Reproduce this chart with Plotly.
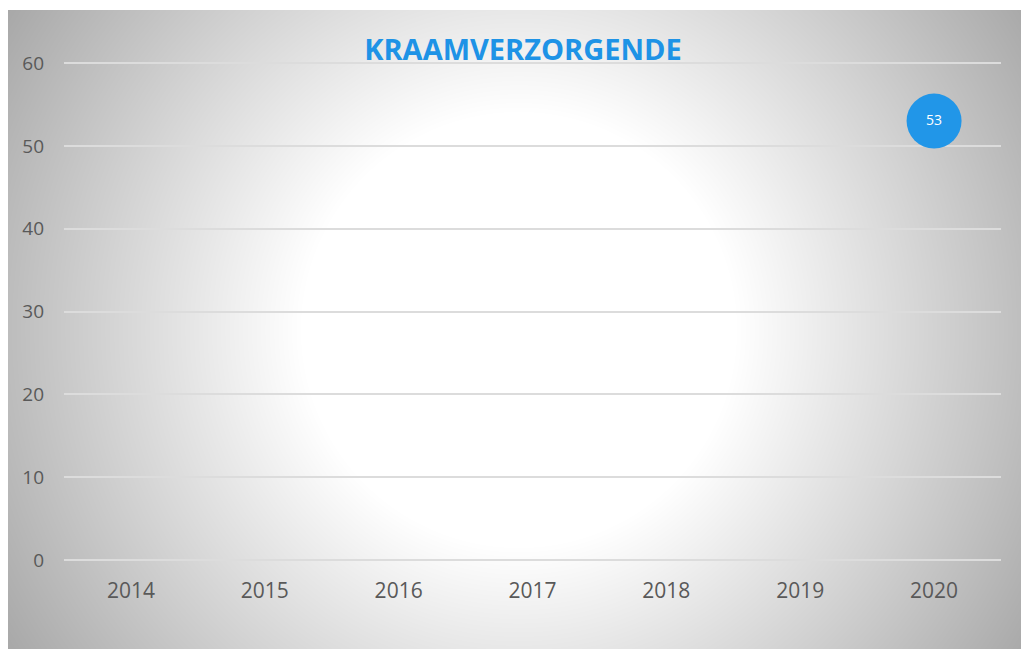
import base64
import struct
import zlib

import numpy as np
import plotly.graph_objects as go

# ---- data ----
years = ["2014", "2015", "2016", "2017", "2018", "2019", "2020"]
values = [None, None, None, None, None, None, 53]
value_labels = ["", "", "", "", "", "", "53"]
y_ticks = [0, 10, 20, 30, 40, 50, 60]
title_text = "KRAAMVERZORGENDE"

# ---- figure geometry (figure sits at page offset 8,8) ----
W, H = 1029, 649
ML, MR, MT, MB = 56, 36, 51, 93
PW, PH = W - ML - MR, H - MT - MB
PANEL_X0, PANEL_Y0 = 0, 2
PANEL_W, PANEL_H = W - PANEL_X0, H - PANEL_Y0
CENTER_X, CENTER_Y = 510.5, 321.5  # gradient centre, figure pixels


def radial_png(w, h, cx, cy):
    yy, xx = np.mgrid[0:h, 0:w].astype(float)
    d = np.sqrt((xx - cx) ** 2 + (yy - cy) ** 2)
    v = 255.0 - 0.225 * np.clip(d - 218.0, 0, None)
    img = np.clip(v, 0, 255).astype(np.uint8)
    diff = img.astype(np.int16)
    diff[:, 1:] = (img[:, 1:].astype(np.int16) - img[:, :-1].astype(np.int16)) % 256
    diff = diff.astype(np.uint8)
    raw = b"".join(b"\x01" + diff[r].tobytes() for r in range(h))

    def chunk(tag, data):
        c = struct.pack(">I", len(data)) + tag + data
        return c + struct.pack(">I", zlib.crc32(tag + data) & 0xFFFFFFFF)

    png = b"\x89PNG\r\n\x1a\n"
    png += chunk(b"IHDR", struct.pack(">IIBBBBB", w, h, 8, 0, 0, 0, 0))
    png += chunk(b"IDAT", zlib.compress(raw, 9))
    png += chunk(b"IEND", b"")
    return "data:image/png;base64," + base64.b64encode(png).decode()


bg_src = radial_png(PANEL_W, PANEL_H, CENTER_X - PANEL_X0, CENTER_Y - PANEL_Y0)

fig = go.Figure()
fig.add_trace(
    go.Scatter(
        x=years,
        y=values,
        mode="markers+text",
        text=value_labels,
        textposition="middle center",
        textfont=dict(family="Open Sans", size=14, color="white"),
        marker=dict(size=55, color="#2196E8", line=dict(width=0)),
        cliponaxis=False,
        showlegend=False,
        hoverinfo="x+y",
    )
)

fig.update_layout(
    width=W,
    height=H,
    margin=dict(l=ML, r=MR, t=MT, b=MB, pad=0),
    paper_bgcolor="white",
    plot_bgcolor="rgba(0,0,0,0)",
    title=dict(
        text="<b>" + title_text + "</b>",
        x=515 / W,
        xanchor="center",
        y=1 - 42 / H,
        yanchor="middle",
        font=dict(family="Open Sans", size=29, color="#1E93E6"),
    ),
    images=[
        dict(
            source=bg_src,
            xref="paper",
            yref="paper",
            x=(PANEL_X0 - ML) / PW,
            y=(H - MB - PANEL_Y0) / PH,
            sizex=PANEL_W / PW,
            sizey=PANEL_H / PH,
            xanchor="left",
            yanchor="top",
            sizing="stretch",
            layer="below",
        )
    ],
    xaxis=dict(
        type="category",
        categoryorder="array",
        categoryarray=years,
        range=[-0.5, len(years) - 0.5],
        showgrid=False,
        showline=False,
        zeroline=False,
        ticks="",
        ticklabelstandoff=12,
        tickfont=dict(family="Open Sans", size=21, color="#595959"),
        fixedrange=True,
    ),
    yaxis=dict(
        range=[-0.5, 60.5],
        tickvals=y_ticks,
        showgrid=True,
        gridcolor="#dcdcdc",
        gridwidth=1.8,
        zeroline=False,
        showline=False,
        ticks="",
        ticklabelstandoff=19,
        tickfont=dict(family="Open Sans", size=19, color="#595959"),
        fixedrange=True,
    ),
)

fig.write_html(
    "out.html",
    post_script="document.documentElement.style.overflow='hidden';document.body.style.overflow='hidden';",
)
